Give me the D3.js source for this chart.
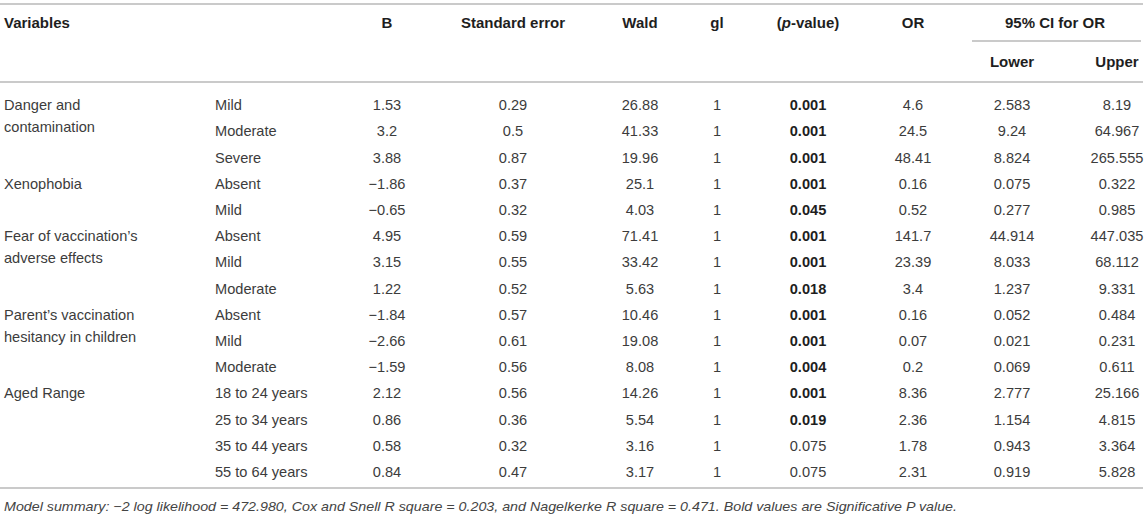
<!DOCTYPE html>
<html><head><meta charset="utf-8">
<script src="https://cdn.jsdelivr.net/npm/d3@7"></script>
<style>
html,body{margin:0;padding:0;background:#fff;}
svg{display:block;font-family:"Liberation Sans",Arial,Helvetica,sans-serif;}
</style></head>
<body><svg id="t" width="1145" height="523"></svg>
<script>
// ---- data ----
const groups = [
  {label:["Danger and","contamination"], rows:3},
  {label:["Xenophobia"], rows:2},
  {label:["Fear of vaccination\u2019s","adverse effects"], rows:3},
  {label:["Parent\u2019s vaccination","hesitancy in children"], rows:3},
  {label:["Aged Range"], rows:4}
];
const levels = ["Mild","Moderate","Severe","Absent","Mild","Absent","Mild","Moderate","Absent","Mild","Moderate","18 to 24 years","25 to 34 years","35 to 44 years","55 to 64 years"];
const B      = ["1.53","3.2","3.88","\u22121.86","\u22120.65","4.95","3.15","1.22","\u22121.84","\u22122.66","\u22121.59","2.12","0.86","0.58","0.84"];
const SE     = ["0.29","0.5","0.87","0.37","0.32","0.59","0.55","0.52","0.57","0.61","0.56","0.56","0.36","0.32","0.47"];
const wald   = ["26.88","41.33","19.96","25.1","4.03","71.41","33.42","5.63","10.46","19.08","8.08","14.26","5.54","3.16","3.17"];
const gl     = ["1","1","1","1","1","1","1","1","1","1","1","1","1","1","1"];
const pval   = ["0.001","0.001","0.001","0.001","0.045","0.001","0.001","0.018","0.001","0.001","0.004","0.001","0.019","0.075","0.075"];
const OR     = ["4.6","24.5","48.41","0.16","0.52","141.7","23.39","3.4","0.16","0.07","0.2","8.36","2.36","1.78","2.31"];
const lower  = ["2.583","9.24","8.824","0.075","0.277","44.914","8.033","1.237","0.052","0.021","0.069","2.777","1.154","0.943","0.919"];
const upper  = ["8.19","64.967","265.555","0.322","0.985","447.035","68.112","9.331","0.484","0.231","0.611","25.166","4.815","3.364","5.828"];
const headers = ["Variables","B","Standard error","Wald","gl","(p-value)","OR"];
const footnote = "Model summary: \u22122 log likelihood = 472.980, Cox and Snell R square = 0.203, and Nagelkerke R square = 0.471. Bold values are Significative P value.";

// ---- layout ----
const svg = d3.select("#t");
const colKeys = ["B","SE","wald","gl","p","OR","lower","upper"];
const colX = d3.scaleOrdinal().domain(colKeys).range([387,513,640,717,808,913,1012,1117]);
const y = d3.scalePoint().domain(d3.range(levels.length)).range([105,472]);
const lineC = "#b8b8b8", txtC = "#3c3c3c", hdC = "#1e1e1e";
const fs = 14.6, hfs = 15;

// rules
const rule = (x1,x2,yy)=>svg.append("line").attr("x1",x1).attr("x2",x2).attr("y1",yy).attr("y2",yy)
  .attr("stroke",lineC).attr("stroke-width",1.7);
rule(0,1143,4); rule(0,1143,82); rule(972,1141,41); rule(0,1143,488);

// header
const hd = svg.append("g").attr("font-weight","bold").attr("fill",hdC).attr("font-size",hfs);
hd.append("text").attr("x",4).attr("y",28).text(headers[0]);
const hx = [colX("B"),colX("SE"),colX("wald"),colX("gl"),colX("p"),colX("OR")];
headers.slice(1).forEach((h,i)=>{
  const t = hd.append("text").attr("x",hx[i]).attr("y",28).attr("text-anchor","middle");
  if(h==="(p-value)"){
    t.append("tspan").text("(");
    t.append("tspan").attr("font-style","italic").text("p");
    t.append("tspan").text("-value)");
  } else t.text(h);
});
hd.append("text").attr("x",1055).attr("y",28).attr("text-anchor","middle").text("95% CI for OR");
hd.append("text").attr("x",colX("lower")).attr("y",67).attr("text-anchor","middle").text("Lower");
hd.append("text").attr("x",colX("upper")).attr("y",67).attr("text-anchor","middle").text("Upper");

// group labels
let start = 0;
const gl_ = svg.append("g").attr("fill",txtC).attr("font-size",fs);
groups.forEach(g=>{
  const t = gl_.append("text").attr("x",4).attr("y",y(start));
  g.label.forEach((s,i)=>t.append("tspan").attr("x",4).attr("dy",i===0?"0.35em":"22").text(s));
  start += g.rows;
});

// body rows
const rows = svg.append("g").attr("font-size",fs).attr("fill",txtC)
  .selectAll("g").data(levels.map((l,i)=>({i,l}))).join("g")
  .attr("transform",d=>`translate(0,${y(d.i)})`);
rows.append("text").attr("x",215).attr("dy","0.35em").text(d=>d.l);
const cols = {B,SE,wald,gl,p:pval,OR,lower,upper};
colKeys.forEach(k=>{
  rows.append("text").attr("x",colX(k)).attr("dy","0.35em").attr("text-anchor","middle")
    .attr("font-weight",d=>k==="p" && +pval[d.i] < 0.05 ? "bold" : null)
    .attr("fill",d=>k==="p" && +pval[d.i] < 0.05 ? hdC : txtC)
    .text(d=>cols[k][d.i]);
});

// footnote
svg.append("text").attr("x",4).attr("y",511).attr("font-size",12.6).attr("font-style","italic")
  .attr("fill","#444").attr("textLength",953).attr("lengthAdjust","spacingAndGlyphs").text(footnote);
</script></body></html>
